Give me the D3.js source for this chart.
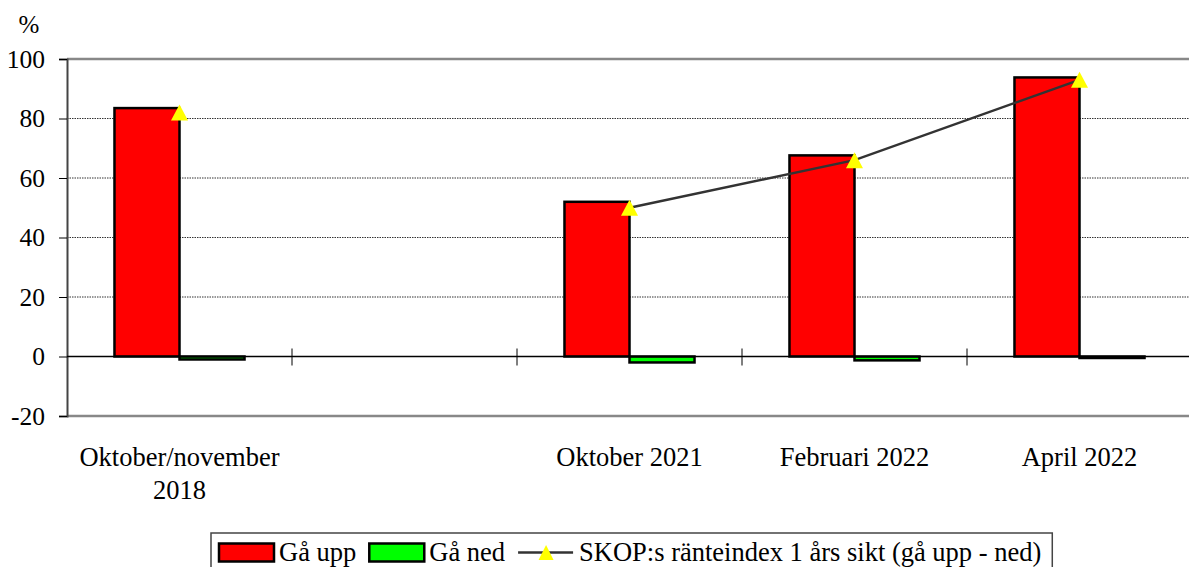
<!DOCTYPE html>
<html><head><meta charset="utf-8">
<script src="https://cdn.jsdelivr.net/npm/d3@7"></script>
<style>
html,body{margin:0;padding:0;background:#fff;}
svg{display:block;}
text{font-family:"Liberation Serif","Times New Roman",serif;fill:#000;}
</style></head>
<body>
<svg id="chart" width="1189" height="567"></svg>
<script>
const categories = ["Oktober/november 2018", "", "Oktober 2021", "Februari 2022", "April 2022"];
const goUp = [83.5, null, 52, 67.6, 93.8];
const goDown = [-1, null, -2, -1.3, -0.5];
const indexValues = [82, null, 50, 66, 93];
const yTicks = [-20, 0, 20, 40, 60, 80, 100];
const seriesNames = ["Gå upp", "Gå ned", "SKOP:s ränteindex 1 års sikt (gå upp - ned)"];
const unitLabel = "%";

const W = 1189, H = 567;
const m = {left: 67, right: -3, top: 59, bottom: 151};
const svg = d3.select("#chart");
const fs = 26.5;

const x = d3.scaleBand().domain(d3.range(categories.length)).range([m.left, W - m.right]).paddingInner(0).paddingOuter(0);
const y = d3.scaleLinear().domain([-20, 100]).range([H - m.bottom, m.top]);
const groupW = x.bandwidth() * 0.578;
const barW = groupW / 2;

// grid lines
svg.append("g").selectAll("line").data(yTicks.filter(t => t !== 0 && t !== 100 && t !== -20)).join("line")
  .attr("x1", m.left).attr("x2", W).attr("y1", d => y(d)).attr("y2", d => y(d))
  .attr("stroke", "#333").attr("stroke-width", 1).attr("stroke-dasharray", "1.5,1");
// top/bottom borders
svg.append("g").selectAll("line").data([100, -20]).join("line")
  .attr("x1", m.left).attr("x2", W).attr("y1", d => y(d)).attr("y2", d => y(d))
  .attr("stroke", "#888").attr("stroke-width", 2.5);

// y axis
const yAxis = d3.axisLeft(y).tickValues(yTicks).tickSize(8).tickPadding(14).tickFormat(d => String(d));
const gy = svg.append("g").attr("transform", `translate(${m.left},0)`).call(yAxis);
gy.attr("font-family", null).attr("font-size", null);
gy.select(".domain").attr("stroke", "#444").attr("stroke-width", 2);
gy.selectAll(".tick line").attr("stroke", "#000").attr("stroke-width", 1);
gy.selectAll(".tick text").attr("font-size", 25.5).attr("fill", "#000").attr("dy", "0.33em");

svg.append("text").attr("x", 29).attr("y", 33).attr("text-anchor", "middle").attr("font-size", 25).text(unitLabel);

// bars
const gb = svg.append("g");
categories.forEach((c, i) => {
  const cx = x(i) + x.bandwidth() / 2;
  if (goUp[i] != null) {
    gb.append("rect").attr("x", cx - barW).attr("width", barW)
      .attr("y", y(Math.max(0, goUp[i]))).attr("height", Math.abs(y(goUp[i]) - y(0)))
      .attr("fill", "#ff0000").attr("stroke", "#000").attr("stroke-width", 2.5);
  }
  if (goDown[i] != null) {
    gb.append("rect").attr("x", cx).attr("width", barW)
      .attr("y", y(Math.max(0, goDown[i]))).attr("height", Math.abs(y(goDown[i]) - y(0)))
      .attr("fill", "#00ff00").attr("stroke", "#000").attr("stroke-width", 2.5);
  }
});

// zero line
svg.append("line").attr("x1", m.left).attr("x2", W).attr("y1", y(0)).attr("y2", y(0))
  .attr("stroke", "#000").attr("stroke-width", 1.5);
// category ticks at band boundaries
svg.append("g").selectAll("line").data(d3.range(1, categories.length)).join("line")
  .attr("x1", d => x(d)).attr("x2", d => x(d)).attr("y1", y(0) - 8).attr("y2", y(0) + 9)
  .attr("stroke", "#000").attr("stroke-width", 1);

// line series
const lineGen = d3.line().defined(d => d.v != null).x(d => x(d.i) + x.bandwidth() / 2).y(d => y(d.v));
const lineData = indexValues.map((v, i) => ({i, v}));
svg.append("path").datum(lineData).attr("d", lineGen).attr("fill", "none").attr("stroke", "#333").attr("stroke-width", 2.5);
const tri = (w, h) => `M0,${-h/2}L${w/2},${h/2}L${-w/2},${h/2}Z`;
svg.append("g").selectAll("path").data(lineData.filter(d => d.v != null)).join("path")
  .attr("transform", d => `translate(${x(d.i) + x.bandwidth() / 2},${y(d.v)})`)
  .attr("d", tri(17, 16)).attr("fill", "#ffff00");

// category labels (wrapped)
const gl = svg.append("g");
categories.forEach((c, i) => {
  if (!c) return;
  const cx = x(i) + x.bandwidth() / 2;
  const t = gl.append("text").attr("x", cx).attr("y", 466).attr("text-anchor", "middle").attr("font-size", fs);
  const words = c.split(" ");
  let line = [], lineNo = 0;
  let ts = t.append("tspan").attr("x", cx).attr("y", 466);
  words.forEach(w => {
    line.push(w);
    ts.text(line.join(" "));
    if (ts.node().getComputedTextLength() > x.bandwidth() - 10 && line.length > 1) {
      line.pop(); ts.text(line.join(" "));
      line = [w]; lineNo++;
      ts = t.append("tspan").attr("x", cx).attr("y", 466 + lineNo * 33).text(w);
    }
  });
});

// legend
const lg = svg.append("g");
const lgBox = lg.append("rect").attr("x", 211).attr("y", 533).attr("height", 60).attr("fill", "#fff").attr("stroke", "#444").attr("stroke-width", 1.5);
let lx = 219;
const ly = 552.5;
seriesNames.forEach((name, k) => {
  if (k < 2) {
    lg.append("rect").attr("x", lx).attr("y", ly - 9).attr("width", 55).attr("height", 18)
      .attr("fill", k === 0 ? "#ff0000" : "#00ff00").attr("stroke", "#000").attr("stroke-width", 2.5);
    lx += 60;
  } else {
    lg.append("line").attr("x1", lx).attr("x2", lx + 55).attr("y1", ly).attr("y2", ly).attr("stroke", "#333").attr("stroke-width", 2.5);
    lg.append("path").attr("transform", `translate(${lx + 28},${ly})`).attr("d", tri(15, 15)).attr("fill", "#ffff00");
    lx += 61;
  }
  const t = lg.append("text").attr("x", lx).attr("y", ly + 8).attr("font-size", fs).text(name);
  lx += t.node().getComputedTextLength() + 13;
});
lgBox.attr("width", lx - 13 + 11 - 211);
</script>
</body></html>
